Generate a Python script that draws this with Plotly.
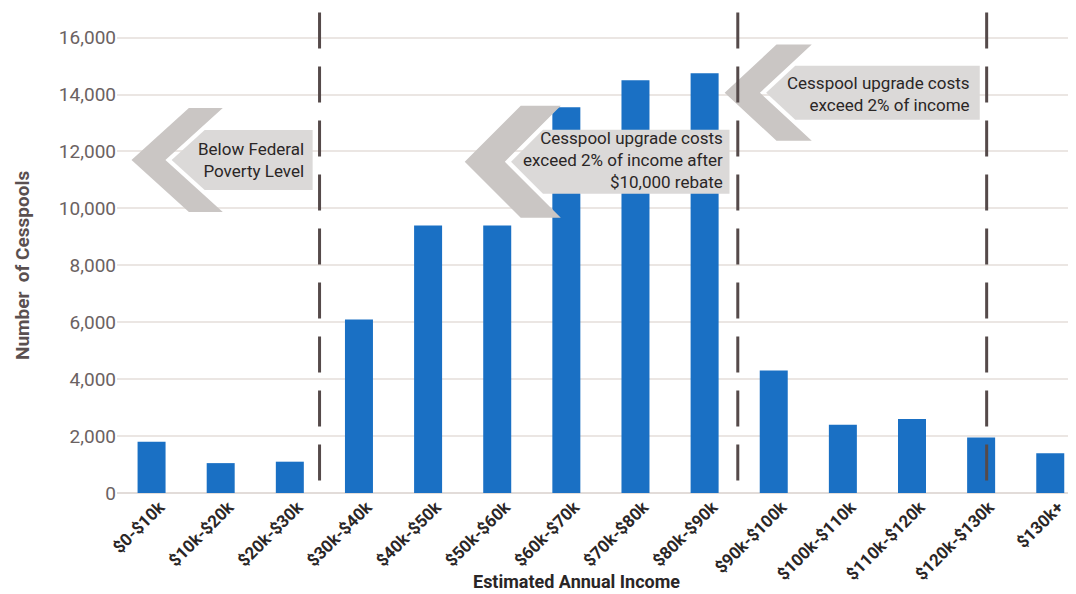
import plotly.graph_objects as go

categories = ["$0-$10k", "$10k-$20k", "$20k-$30k", "$30k-$40k", "$40k-$50k",
              "$50k-$60k", "$60k-$70k", "$70k-$80k", "$80k-$90k", "$90k-$100k",
              "$100k-$110k", "$110k-$120k", "$120k-$130k", "$130k+"]
cesspools = [1800, 1050, 1100, 6100, 9400, 9400, 13550, 14500, 14750,
             4300, 2400, 2600, 1950, 1400]
y_ticks = [0, 2000, 4000, 6000, 8000, 10000, 12000, 14000, 16000]
y_tick_text = ["0", "2,000", "4,000", "6,000", "8,000", "10,000", "12,000", "14,000", "16,000"]

# threshold lines (category-axis positions)
threshold_x = [2.43, 8.48, 12.08]

# callout arrows: tip_x, center_y, half height, thickness, arm dx, body half height, body right, text
callouts = [
    dict(tip=-0.29, cy=11700, H=1830, T=0.49, dx=0.83, h=1055, right=2.33,
         text="Below Federal<br>Poverty Level", tx=2.24, ty=11700),
    dict(tip=4.53, cy=11640, H=1970, T=0.58, dx=0.81, h=1125, right=8.36,
         text="Cesspool upgrade costs<br>exceed 2% of income after<br>$10,000 rebate", tx=8.29, ty=11700),
    dict(tip=8.29, cy=14065, H=1690, T=0.51, dx=0.75, h=950, right=11.98,
         text="Cesspool upgrade costs<br>exceed 2% of income", tx=11.87, ty=14030),
]

FONT = "Roboto, Liberation Sans Narrow, DejaVu Sans Condensed, sans-serif"
BAR = "#1a70c4"
CHEV = "#cac6c4"
BODY = "#dbd9d8"

fig = go.Figure()
fig.add_trace(go.Bar(x=categories, y=cesspools, marker=dict(color=BAR, line=dict(width=0)),
                     hoverinfo="x+y"))

shapes = []
annotations = []
for c in callouts:
    t, cy, H, T, dx, h, r = c["tip"], c["cy"], c["H"], c["T"], c["dx"], c["h"], c["right"]
    chev = (f"M {t},{cy} L {t+dx},{cy+H} L {t+dx+T},{cy+H} L {t+T},{cy} "
            f"L {t+dx+T},{cy-H} L {t+dx},{cy-H} Z")
    shapes.append(dict(type="path", path=chev, xref="x", yref="y", fillcolor=CHEV,
                       line=dict(width=0), layer="above"))
    g = 0.09
    bx = t + T + g
    bdx = dx * h / H
    body = (f"M {bx},{cy} L {bx+bdx},{cy+h} L {r},{cy+h} L {r},{cy-h} L {bx+bdx},{cy-h} Z")
    shapes.append(dict(type="path", path=body, xref="x", yref="y", fillcolor=BODY,
                       line=dict(width=0), layer="above"))
    annotations.append(dict(x=c["tx"], y=c["ty"], xref="x", yref="y", text=c["text"],
                            showarrow=False, xanchor="right", yanchor="middle", align="right",
                            font=dict(family=FONT, size=17, color="#2a2626")))

for xv in threshold_x:
    shapes.append(dict(type="line", xref="x", yref="y", x0=xv, x1=xv, y0=16880, y1=0,
                       line=dict(color="#554a4a", width=3, dash="36px,18px"), layer="above"))

annotations.append(dict(x=0.482, y=-0.183, xref="paper", yref="paper",
                        text="<b>Estimated Annual Income</b>", showarrow=False,
                        xanchor="center", yanchor="middle",
                        font=dict(family=FONT, size=18, color="#2a2626")))
annotations.append(dict(x=-0.0996, y=0.474, xref="paper", yref="paper",
                        text="<b>Number  of Cesspools</b>", showarrow=False, textangle=-90,
                        xanchor="center", yanchor="middle",
                        font=dict(family=FONT, size=19, color="#5a5050")))

# page body has an 8px margin, so the figure is sized 8px smaller each way
fig.update_layout(
    width=1068, height=586,
    margin=dict(l=109, r=5, t=4, b=101),
    paper_bgcolor="white", plot_bgcolor="white",
    bargap=0.595, showlegend=False,
    shapes=shapes, annotations=annotations,
    xaxis=dict(range=[-0.5, 13.3], tickangle=-45, showgrid=False, zeroline=False,
               showline=False, ticks="", ticklabelshift=8,
               tickfont=dict(family=FONT, size=17, color="#2a2626", weight="bold")),
    yaxis=dict(range=[0, 16900], tickvals=y_ticks, ticktext=y_tick_text,
               showgrid=True, gridcolor="#ebe6e3", gridwidth=1.5, zeroline=True,
               zerolinecolor="#e2dcd9", zerolinewidth=1.5, showline=False, ticks="",
               tickfont=dict(family=FONT, size=19, color="#6b6262")),
)

fig.write_html("out.html")
